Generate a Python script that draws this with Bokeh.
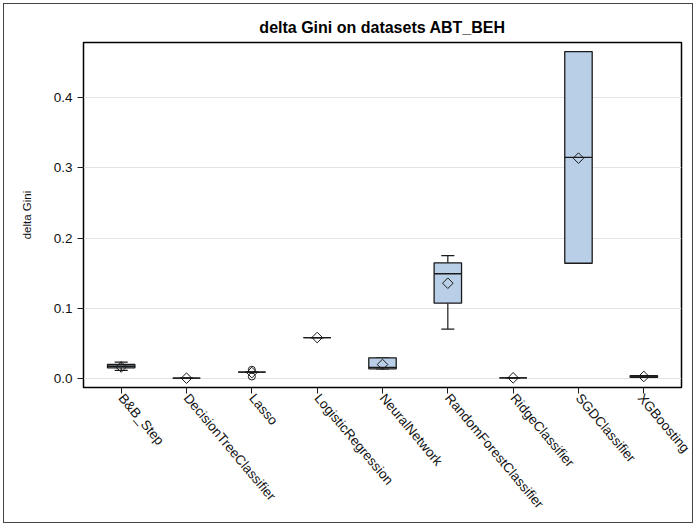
import math
from bokeh.plotting import figure
from bokeh.models import FixedTicker, Range1d
from bokeh.embed import file_html
from bokeh.resources import INLINE

# ---- data ----
categories = ["B&B_Step", "DecisionTreeClassifier", "Lasso", "LogisticRegression",
              "NeuralNetwork", "RandomForestClassifier", "RidgeClassifier",
              "SGDClassifier", "XGBoosting"]
whisker_low = [0.011, 0.0, 0.0086, 0.058, 0.0134, 0.070, 0.0005, 0.164, 0.0012]
q1          = [0.0148, 0.0, 0.0086, 0.058, 0.0134, 0.107, 0.0005, 0.164, 0.0012]
median      = [0.0170, 0.0, 0.0086, 0.058, 0.0155, 0.149, 0.0005, 0.315, 0.0020]
q3          = [0.0195, 0.0, 0.0086, 0.058, 0.0290, 0.1646, 0.0005, 0.466, 0.0035]
whisker_high= [0.0230, 0.0, 0.0086, 0.058, 0.0290, 0.175, 0.0005, 0.466, 0.0035]
mean        = [0.0160, 0.0, 0.0080, 0.058, 0.0195, 0.1355, 0.0005, 0.314, 0.0024]
outlier_cat = [2, 2]
outlier_val = [0.0120, 0.0024]
y_ticks = [0.0, 0.1, 0.2, 0.3, 0.4]

FONT = "Liberation Sans"
BOX_FILL = "#B9CFE7"
DARK = "#1a1a1a"

xs = list(range(len(categories)))
half_w = 0.21
cap = 0.10

p = figure(width=690, height=520, output_backend="svg", toolbar_location=None,
           title="delta Gini on datasets ABT_BEH",
           x_range=Range1d(-0.577, len(categories) - 1 + 0.577),
           y_range=Range1d(-0.0133, 0.479),
           min_border_left=79, min_border_top=38, min_border_right=13,
           min_border_bottom=137)
p.margin = (3, 3, 3, 3)
p.styles = {"border": "1px solid #444444"}

p.title.align = "center"
p.title.text_font = FONT
p.title.text_font_size = "16px"
p.title.text_font_style = "bold"
p.title.text_color = "#000000"
p.title.standoff = 14
p.title.offset = -6

p.outline_line_color = "#000000"
p.outline_line_width = 1.5

p.xgrid.grid_line_color = None
p.ygrid.grid_line_color = "#E3E3E3"
p.ygrid.grid_line_width = 1

p.yaxis.ticker = FixedTicker(ticks=y_ticks)
p.yaxis.major_label_overrides = {v: f"{v:.1f}" for v in y_ticks}
p.xaxis.ticker = FixedTicker(ticks=xs)
p.xaxis.major_label_overrides = {i: c for i, c in enumerate(categories)}
p.xaxis.major_label_orientation = -math.radians(50)
p.xaxis.major_label_standoff = 2

for ax in (p.xaxis[0], p.yaxis[0]):
    ax.axis_line_color = None
    ax.major_tick_line_color = DARK
    ax.major_tick_out = 6
    ax.major_tick_in = 0
    ax.minor_tick_line_color = None
    ax.major_label_text_font = FONT
    ax.major_label_text_font_size = "13.5px"
    ax.major_label_text_color = "#111111"

p.yaxis.axis_label = "delta Gini"
p.yaxis.axis_label_text_font = FONT
p.yaxis.axis_label_text_font_size = "11.5px"
p.yaxis.axis_label_text_font_style = "normal"
p.yaxis.axis_label_text_color = "#111111"
p.yaxis.axis_label_standoff = 18

# whiskers
p.segment(x0=xs, y0=q3, x1=xs, y1=whisker_high, line_color=DARK, line_width=1.2)
p.segment(x0=xs, y0=q1, x1=xs, y1=whisker_low, line_color=DARK, line_width=1.2)
p.segment(x0=[x - cap for x in xs], y0=whisker_high, x1=[x + cap for x in xs],
          y1=whisker_high, line_color=DARK, line_width=1.2)
p.segment(x0=[x - cap for x in xs], y0=whisker_low, x1=[x + cap for x in xs],
          y1=whisker_low, line_color=DARK, line_width=1.2)

# boxes
p.vbar(x=xs, width=2 * half_w, bottom=q1, top=q3, fill_color=BOX_FILL,
       line_color=DARK, line_width=1.3)
# medians
p.segment(x0=[x - half_w for x in xs], y0=median, x1=[x + half_w for x in xs],
          y1=median, line_color=DARK, line_width=1.3)
# means (open diamonds)
p.scatter(x=xs, y=mean, marker="square", angle=math.pi / 4, size=7.5,
          fill_alpha=0, line_color=DARK, line_width=1)
# outliers (open circles)
p.scatter(x=outlier_cat, y=outlier_val, marker="circle", size=7,
          fill_alpha=0, line_color=DARK, line_width=1)

open("out.html", "w").write(file_html(p, INLINE))
